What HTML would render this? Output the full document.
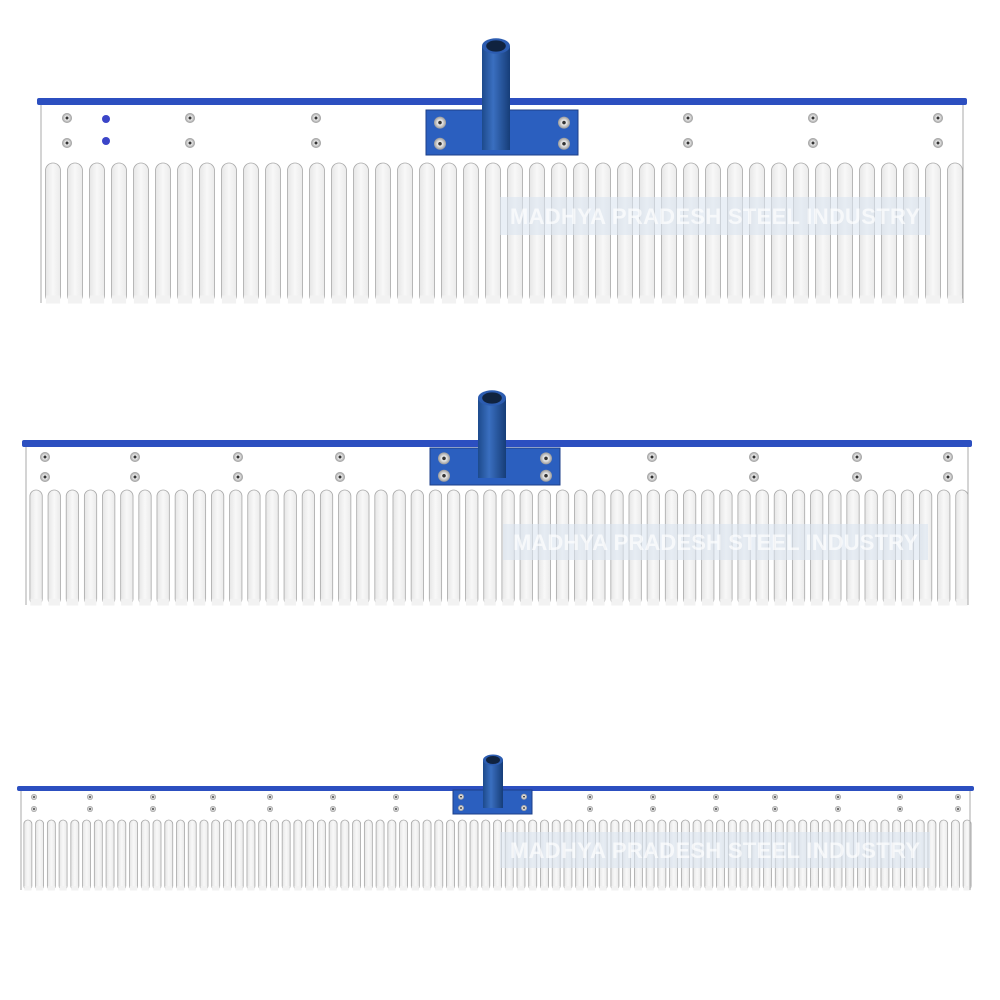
<!DOCTYPE html>
<html><head><meta charset="utf-8"><style>
html,body{margin:0;padding:0;background:#fff;}
svg{display:block;font-family:"Liberation Sans",sans-serif;}
</style></head><body>
<svg id="s" width="1000" height="1000" viewBox="0 0 1000 1000">
<defs>
<linearGradient id="tg" x1="0" x2="1" y1="0" y2="0">
<stop offset="0" stop-color="#e6e6e6"/><stop offset="0.5" stop-color="#f8f8f8"/><stop offset="1" stop-color="#eaeaea"/></linearGradient>
<linearGradient id="pipe" x1="0" x2="1"><stop offset="0" stop-color="#1d4a8c"/><stop offset="0.4" stop-color="#3a6fc0"/><stop offset="1" stop-color="#163d78"/></linearGradient>
<radialGradient id="bolt"><stop offset="0.25" stop-color="#333"/><stop offset="0.35" stop-color="#eee"/><stop offset="1" stop-color="#999"/></radialGradient>
</defs>
</svg>
<script>
const NS='http://www.w3.org/2000/svg';
const svg=document.getElementById('s');
// rake specs
const rakeNames=['rake-large','rake-medium','rake-small'];
const rakeX0=[41,26,21];
const rakeX1=[965,970,972];
const rakeBarY=[98,440,786];
const rakeBarH=[7,7,5];
const rakeTineTop=[163,490,820];
const rakeBottom=[303,605,890];
const rakeTineCount=[42,52,81];
const rakeBoltRows=[[118,143],[457,477],[797,809]];
const rakeBoltCols=[[67,190,316,688,813,938],[45,135,238,340,652,754,857,948],[34,90,153,213,270,333,396,590,653,716,775,838,900,958]];
const rakePlate=[[426,578,110,155],[430,560,448,485],[453,532,790,814]];
const rakePipe=[[482,510,46,150],[478,506,398,478],[483,503,760,808]];
const rakeWm=[[500,197,430,38],[503,524,425,36],[500,832,430,36]];
function el(t,a,p){const e=document.createElementNS(NS,t);for(const k in a)e.setAttribute(k,a[k]);(p||svg).appendChild(e);return e;}
for(let r=0;r<3;r++){
  const g=el('g',{});
  
  
  const x0=rakeX0[r],x1=rakeX1[r],w=x1-x0;
  const pitch=w/rakeTineCount[r], tw=pitch*0.68;
  for(let i=0;i<rakeTineCount[r];i++){
    const tx=x0+i*pitch+(pitch-tw)/2+1;
    const t=el('rect',{x:tx,y:rakeTineTop[r],width:tw,height:rakeBottom[r]-rakeTineTop[r],rx:tw/2,fill:'url(#tg)',stroke:'#a8a8a8','stroke-width':0.8},g);
    
    
    el('rect',{x:tx+0.4,y:rakeBottom[r]-tw/2,width:tw-0.8,height:tw/2+0.5,fill:'#f2f2f2'},g);
  }
  el('line',{x1:x0,x2:x0,y1:rakeBarY[r]+rakeBarH[r],y2:rakeBottom[r],stroke:'#aaa','stroke-width':1},g);
  el('line',{x1:x1-2,x2:x1-2,y1:rakeBarY[r]+rakeBarH[r],y2:rakeBottom[r],stroke:'#aaa','stroke-width':1},g);
  const wm=rakeWm[r];
  el('rect',{x:wm[0],y:wm[1],width:wm[2],height:wm[3],fill:'#dbe5f0',opacity:0.6},g);
  const tx=el('text',{x:wm[0]+wm[2]/2,y:wm[1]+wm[3]/2+8,'text-anchor':'middle','font-size':22,'font-weight':'bold',fill:'#ffffff',opacity:0.7,textLength:wm[2]-20},g);
  tx.textContent='MADHYA PRADESH STEEL INDUSTRY';
  
  
  const b=el('rect',{x:x0-4,y:rakeBarY[r],width:w+6,height:rakeBarH[r],rx:2,fill:'#2c4fc0'},g);
  
  
  for(const bx of rakeBoltCols[r]) for(const by of rakeBoltRows[r]){
    const c=el('circle',{cx:bx,cy:by,r:r==2?3:5,fill:'url(#bolt)'},g);
    
    
  }
  if(r==0){
    for(const by of [119,141]){
      const h=el('circle',{cx:106,cy:by,r:4,fill:'#3b45c8'},g);
      
      
    }
  }
  const p=rakePlate[r];
  const pl=el('rect',{x:p[0],y:p[2],width:p[1]-p[0],height:p[3]-p[2],fill:'#2b5fbf',stroke:'#1c3f88','stroke-width':1},g);
  
  
  const pr=r==2?3:6, ins=r==2?8:14;
  for(const bx of [p[0]+ins,p[1]-ins]) for(const by of [p[2]+(p[3]-p[2])*0.28,p[2]+(p[3]-p[2])*0.75])
    el('circle',{cx:bx,cy:by,r:pr,fill:'url(#bolt)'},g);
  const q=rakePipe[r];
  const pp=el('rect',{x:q[0],y:q[2],width:q[1]-q[0],height:q[3]-q[2],fill:'url(#pipe)'},g);
  
  
  const cx=(q[0]+q[1])/2, rx=(q[1]-q[0])/2;
  el('ellipse',{cx:cx,cy:q[2],rx:rx,ry:rx*0.55,fill:'#2c5cb0'},g);
  el('ellipse',{cx:cx,cy:q[2],rx:rx*0.7,ry:rx*0.4,fill:'#10233f'},g);
}
</script>
</body></html>
